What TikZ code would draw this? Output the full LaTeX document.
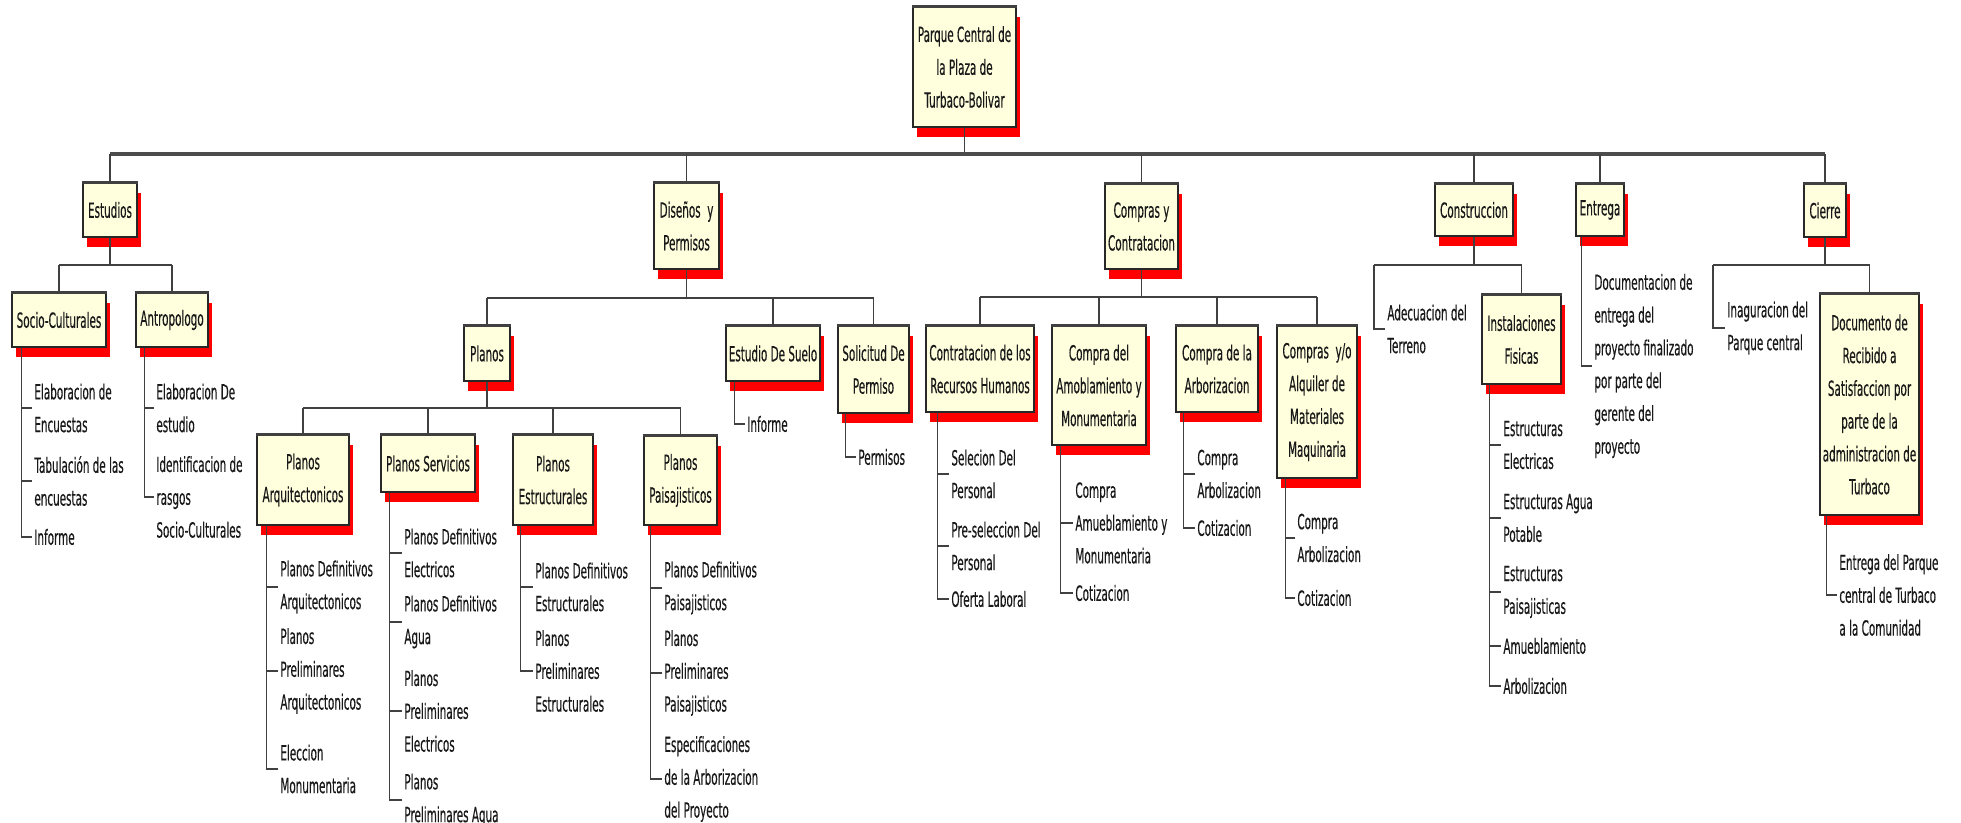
\documentclass[tikz,border=0pt]{standalone}
\usepackage{fontspec}
\usetikzlibrary{shadows}
\newfontfamily\wbsfont[FakeStretch=0.5,FakeBold=0.35]{DejaVu Sans}
\definecolor{boxfill}{RGB}{255,255,222}
\definecolor{shadowred}{RGB}{255,0,0}
\definecolor{inkgray}{RGB}{40,40,40}
\tikzset{
  wbsbox/.style={draw=inkgray, line width=0.6pt, fill=boxfill, align=center,
    inner sep=1pt, text=black!90,
    font=\wbsfont\fontsize{10.4}{16.4}\selectfont,
    drop shadow={fill=shadowred, opacity=1, shadow xshift=2pt, shadow yshift=-5pt}},
  leaf/.style={anchor=west, align=left, inner xsep=1pt, inner ysep=0pt, text=black!90,
    font=\wbsfont\fontsize{10.4}{16.4}\selectfont},
  topedge/.style={draw=black!75, line width=1.4pt},
  mainbus/.style={draw=black!70, line width=1.6pt},
  bus/.style={draw=black!75, line width=1.1pt},
  conn/.style={draw=black!75, line width=0.6pt}
}
\begin{document}
\begin{tikzpicture}[x=0.5pt,y=-0.5pt]
\useasboundingbox[fill=white] (0,0) rectangle (1961,823);
\clip (0,0) rectangle (1961,823);

% bus heights
\coordinate (mb) at (0,154);
\coordinate (busA) at (0,265);
\coordinate (busB) at (0,298);
\coordinate (busC) at (0,297);
\coordinate (busD) at (0,408);
\coordinate (adv) at (1374,265);
\coordinate (inv) at (1713,265);

% ---- boxes ----
\node[wbsbox, minimum width=51.5pt, minimum height=60pt] (root) at (964.5,67) {Parque Central de\\la Plaza de\\Turbaco-Bolivar};

\node[wbsbox, minimum width=27pt, minimum height=27pt] (estudios) at (110,210) {Estudios};
\node[wbsbox, minimum width=32.5pt, minimum height=43pt] (disenos) at (686.5,226) {Diseños~~y\\Permisos};
\node[wbsbox, minimum width=36.5pt, minimum height=42.5pt] (compras) at (1141.5,226.5) {Compras y\\Contratacion};
\node[wbsbox, minimum width=39pt, minimum height=26pt] (constr) at (1474,210) {Construccion};
\node[wbsbox, minimum width=24pt, minimum height=26pt] (entrega) at (1600,210) {Entrega};
\node[wbsbox, minimum width=21pt, minimum height=26.5pt] (cierre) at (1825,210.5) {Cierre};

\node[wbsbox, minimum width=47pt, minimum height=27pt] (socio) at (59,320) {Socio-Culturales};
\node[wbsbox, minimum width=36pt, minimum height=27pt] (antrop) at (172,320) {Antropologo};

\node[wbsbox, minimum width=23pt, minimum height=27.5pt] (planos) at (487,353.5) {Planos};
\node[wbsbox, minimum width=47pt, minimum height=27.5pt] (suelo) at (773,353.5) {Estudio De Suelo};
\node[wbsbox, minimum width=35.5pt, minimum height=43.5pt] (solic) at (873.5,369.5) {Solicitud De\\Permiso};

\node[wbsbox, minimum width=54pt, minimum height=43pt] (contrat) at (980,369) {Contratacion de los\\Recursos Humanos};
\node[wbsbox, minimum width=47pt, minimum height=59.5pt] (amob) at (1099,385.5) {Compra del\\Amoblamiento y\\Monumentaria};
\node[wbsbox, minimum width=41pt, minimum height=43pt] (arbor) at (1217,369) {Compra de la\\Arborizacion};
\node[wbsbox, minimum width=40pt, minimum height=76pt] (alquiler) at (1317,402) {Compras~~y/o\\Alquiler de\\Materiales\\Maquinaria};

\node[wbsbox, minimum width=39.5pt, minimum height=44.5pt] (instal) at (1521.5,339.5) {Instalaciones\\Fisicas};
\node[wbsbox, minimum width=49.5pt, minimum height=110.5pt] (docum) at (1869.5,404.5) {Documento de\\Recibido a\\Satisfaccion por\\parte de la\\administracion de\\Turbaco};

\node[wbsbox, minimum width=46pt, minimum height=45pt] (parq) at (303,480) {Planos\\Arquitectonicos};
\node[wbsbox, minimum width=47pt, minimum height=28.5pt] (pserv) at (428,463.5) {Planos Servicios};
\node[wbsbox, minimum width=40pt, minimum height=45pt] (pestr) at (553,480) {Planos\\Estructurales};
\node[wbsbox, minimum width=36.5pt, minimum height=44.5pt] (ppais) at (680.5,480.5) {Planos\\Paisajisticos};

% thick top edge of every box
\foreach \n in {root,estudios,disenos,compras,constr,entrega,cierre,socio,antrop,planos,suelo,solic,contrat,amob,arbor,alquiler,instal,docum,parq,pserv,pestr,ppais}
  \draw[topedge] (\n.north west) -- (\n.north east);

% ---- leaves ----
\node[leaf] (s1) at (32,408) {Elaboracion de\\Encuestas};
\node[leaf] (s2) at (32,481) {Tabulación de las\\encuestas};
\node[leaf] (s3) at (32,537) {Informe};

\node[leaf] (a1) at (154,408) {Elaboracion De\\estudio};
\node[leaf] (a2) at (154,497) {Identificacion de\\rasgos\\Socio-Culturales};

\node[leaf] (pa1) at (278,587) {Planos Definitivos\\Arquitectonicos};
\node[leaf] (pa2) at (278,671) {Planos\\Preliminares\\Arquitectonicos};
\node[leaf] (pa3) at (278,769) {Eleccion\\Monumentaria};

\node[leaf] (ps1) at (402,553) {Planos Definitivos\\Electricos};
\node[leaf] (ps2) at (402,622) {Planos Definitivos\\Agua};
\node[leaf] (ps3) at (402,711) {Planos\\Preliminares\\Electricos};
\node[leaf] (ps4) at (402,800) {Planos\\Preliminares Agua};

\node[leaf] (pe1) at (533,587) {Planos Definitivos\\Estructurales};
\node[leaf] (pe2) at (533,671) {Planos\\Preliminares\\Estructurales};

\node[leaf] (pp1) at (662,588) {Planos Definitivos\\Paisajisticos};
\node[leaf] (pp2) at (662,673) {Planos\\Preliminares\\Paisajisticos};
\node[leaf] (pp3) at (662,779) {Especificaciones\\de la Arborizacion\\del Proyecto};

\node[leaf] (su1) at (745,424) {Informe};
\node[leaf] (so1) at (856,457) {Permisos};

\node[leaf] (c1) at (949,474) {Selecion Del\\Personal};
\node[leaf] (c2) at (949,546) {Pre-seleccion Del\\Personal};
\node[leaf] (c3) at (949,599) {Oferta Laboral};

\node[leaf] (m1) at (1073,523) {Compra\\Amueblamiento y\\Monumentaria};
\node[leaf] (m2) at (1073,593) {Cotizacion};

\node[leaf] (r1) at (1195,474) {Compra\\Arbolizacion};
\node[leaf] (r2) at (1195,528) {Cotizacion};

\node[leaf] (q1) at (1295,538) {Compra\\Arbolizacion};
\node[leaf] (q2) at (1295,598) {Cotizacion};

\node[leaf] (ad) at (1385,329) {Adecuacion del\\Terreno};

\node[leaf] (i1) at (1501,445) {Estructuras\\Electricas};
\node[leaf] (i2) at (1501,518) {Estructuras Agua\\Potable};
\node[leaf] (i3) at (1501,592) {Estructuras\\Paisajisticas};
\node[leaf] (i4) at (1501,646) {Amueblamiento};
\node[leaf] (i5) at (1501,686) {Arbolizacion};

\node[leaf] (e1) at (1592,366) {Documentacion de\\entrega del\\proyecto finalizado\\por parte del\\gerente del\\proyecto};

\node[leaf] (in) at (1725,328) {Inaguracion del\\Parque central};
\node[leaf] (d1) at (1837,595) {Entrega del Parque\\central de Turbaco\\a la Comunidad};

% ---- main bus ----
\draw[conn] (root.south) -- (root.south |- mb);
\draw[mainbus] (estudios.north |- mb) -- (cierre.north |- mb);
\foreach \n in {estudios,disenos,compras,constr,entrega,cierre}
  \draw[conn] (\n.north) -- (\n.north |- mb);

% Estudios
\draw[conn] (estudios.south) -- (estudios.south |- busA);
\draw[bus] (socio.north |- busA) -- (antrop.north |- busA);
\foreach \n in {socio,antrop} \draw[conn] (\n.north) -- (\n.north |- busA);

% Disenos y Permisos
\draw[conn] (disenos.south) -- (disenos.south |- busB);
\draw[bus] (planos.north |- busB) -- (solic.north |- busB);
\foreach \n in {planos,suelo,solic} \draw[conn] (\n.north) -- (\n.north |- busB);

% Planos
\draw[conn] (planos.south) -- (planos.south |- busD);
\draw[bus] (parq.north |- busD) -- (ppais.north |- busD);
\foreach \n in {parq,pserv,pestr,ppais} \draw[conn] (\n.north) -- (\n.north |- busD);

% Compras y Contratacion
\draw[conn] (compras.south) -- (compras.south |- busC);
\draw[bus] (contrat.north |- busC) -- (alquiler.north |- busC);
\foreach \n in {contrat,amob,arbor,alquiler} \draw[conn] (\n.north) -- (\n.north |- busC);

% Construccion
\draw[conn] (constr.south) -- (constr.south |- busA);
\draw[bus] (adv) -- (instal.north |- busA);
\draw[conn] (instal.north) -- (instal.north |- busA);
\draw[conn] (adv) |- (ad.west);

% Cierre
\draw[conn] (cierre.south) -- (cierre.south |- busA);
\draw[bus] (inv) -- (docum.north |- busA);
\draw[conn] (docum.north) -- (docum.north |- busA);
\draw[conn] (inv) |- (in.west);

% ---- leaf connectors ----
\foreach \l in {s1,s2,s3} \draw[conn] ([xshift=5pt]socio.south west) |- (\l.west);
\foreach \l in {a1,a2} \draw[conn] ([xshift=4.5pt]antrop.south west) |- (\l.west);
\foreach \l in {pa1,pa2,pa3} \draw[conn] ([xshift=5pt]parq.south west) |- (\l.west);
\foreach \l in {ps1,ps2,ps3,ps4} \draw[conn] ([xshift=4.5pt]pserv.south west) |- (\l.west);
\foreach \l in {pe1,pe2} \draw[conn] ([xshift=4pt]pestr.south west) |- (\l.west);
\foreach \l in {pp1,pp2,pp3} \draw[conn] ([xshift=3.5pt]ppais.south west) |- (\l.west);
\draw[conn] ([xshift=4.5pt]suelo.south west) |- (su1.west);
\draw[conn] ([xshift=4pt]solic.south west) |- (so1.west);
\foreach \l in {c1,c2,c3} \draw[conn] ([xshift=6pt]contrat.south west) |- (\l.west);
\foreach \l in {m1,m2} \draw[conn] ([xshift=4.5pt]amob.south west) |- (\l.west);
\foreach \l in {r1,r2} \draw[conn] ([xshift=4pt]arbor.south west) |- (\l.west);
\foreach \l in {q1,q2} \draw[conn] ([xshift=4.5pt]alquiler.south west) |- (\l.west);
\foreach \l in {i1,i2,i3,i4,i5} \draw[conn] ([xshift=4pt]instal.south west) |- (\l.west);
\draw[conn] ([xshift=3pt]entrega.south west) |- (e1.west);
\draw[conn] ([xshift=3.5pt]docum.south west) |- (d1.west);
\end{tikzpicture}
\end{document}
